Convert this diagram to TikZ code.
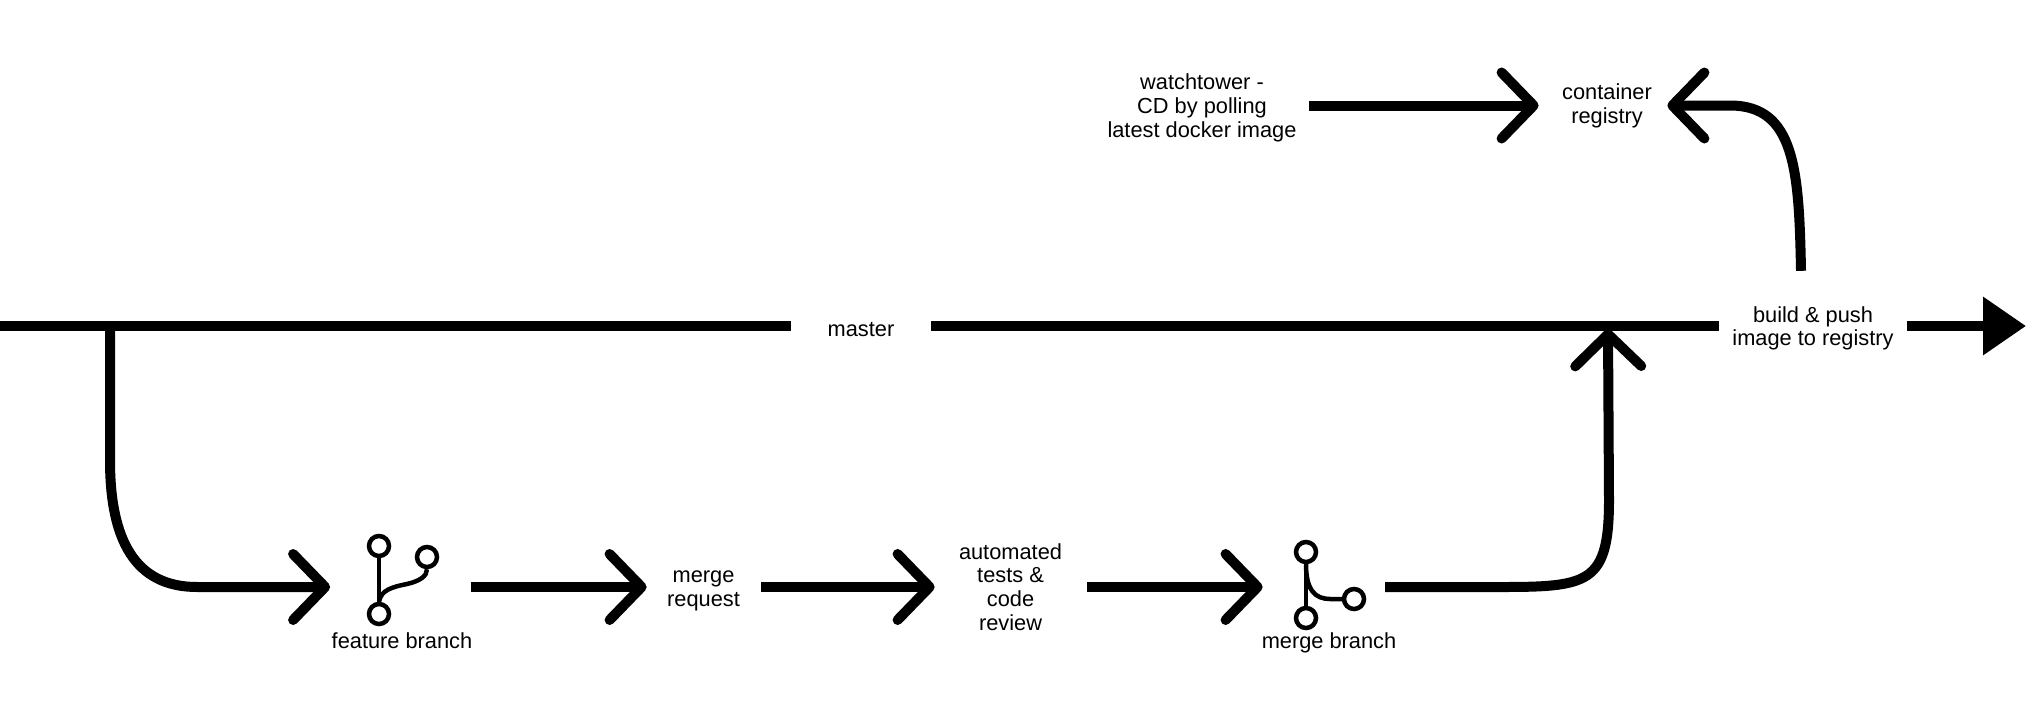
\documentclass[tikz,border=0pt]{standalone}
\usepackage{fontspec}
\setmainfont{Liberation Sans}
\usetikzlibrary{arrows.meta}

\tikzset{
    flow/.style={line width=10pt, shorten >=-0.8pt, -{Straight Barb[length=32pt,width=66pt,line cap=round,line join=round]}},
    plainflow/.style={line width=10pt},
    endflow/.style={line width=10pt, -{Triangle[length=43pt,width=56pt]}},
    step label/.style={align=center, inner sep=0pt, font=\fontsize{21.8}{23.7}\selectfont},
    commit/.style={circle, draw, fill=white, line width=4.5pt, minimum size=20pt, inner sep=0pt},
    icon/.style={line width=4.5pt},
}

\begin{document}
\begin{tikzpicture}[x=1pt,y=-1pt]

                \useasboundingbox (0,0) rectangle (2026,717);

                \coordinate (origin) at (0,326);
                \coordinate (forkPoint) at (110,326);
                \coordinate (exit) at (2026,326);
                \coordinate (joinPoint) at (1608,330);
                \coordinate (topRow) at (0,105.5);

                % top row
                \node[step label, minimum width=214pt] (watchtower) at (1202,108) {watchtower -\\CD by polling\\latest docker image};
                \node[step label, minimum width=138pt] (registry) at (1607,106) {container\\registry};

                % main line
                \node[step label, minimum width=140pt] (master) at (861,330) {master};
                \node[step label, minimum width=187pt, minimum height=115pt] (build) at (1813,328.5) {build \& push\\image to registry};

                % bottom row
                \node[minimum width=141pt, inner sep=0pt] (featureBranch) at (400,587) {};
                \node[step label, minimum width=115pt] (mergeRequest) at (703.5,591) {merge\\request};
                \node[step label, minimum width=153pt] (tests) at (1010.5,587) {automated\\tests \&\\code\\review};
                \node[minimum width=123pt, inner sep=0pt] (mergeBranch) at (1323.5,587) {};
                \node[step label] (featureLabel) at (402,641) {feature branch};
                \node[step label] (mergeLabel) at (1329,643) {merge branch};

                % branch icons
                \node[commit] (featureTop) at (379,546) {};
                \node[commit] (featureRight) at (427,557) {};
                \node[commit] (featureBottom) at (379,614) {};
                \node[commit] (mergeTop) at (1306,552) {};
                \node[commit] (mergeRight) at (1354,599) {};
                \node[commit] (mergeBottom) at (1306,618) {};

                \draw[icon] (featureTop) -- (featureBottom);
                \draw[icon] (featureBottom.north) .. controls (381,590) and (392,587) .. (407,584) .. controls (420,581) and (427,576) .. (featureRight.south);
                \draw[icon] (mergeTop) -- (mergeBottom);
                \draw[icon] (mergeTop.south) .. controls (1306,590) and (1315,599) .. (1330,599) -- (mergeRight.west);

                \draw[plainflow] (origin) -- (origin -| master.west);
                \draw[plainflow] (origin -| master.east) -- (origin -| build.west);
                \draw[endflow] (origin -| build.east) -- (exit);

                \draw[flow] (forkPoint) -- (110,460) .. controls (110,540) and (135,587) .. (197,587) -- (featureBranch.west);
                \draw[flow] (featureBranch.east) -- (featureBranch -| mergeRequest.west);
                \draw[flow] (featureBranch -| mergeRequest.east) -- (tests.west);
                \draw[flow] (tests.east) -- (mergeBranch.west);
                \draw[flow] (mergeBranch.east) -- (1480,587) .. controls (1585,587) and (1609,590) .. (1609,500) -- (joinPoint);

                \draw[flow] (topRow -| watchtower.east) -- (topRow -| registry.west);
                \draw[flow] ([xshift=-12pt]build.north) .. controls (1799,170) and (1795,105.5) .. (1730,105.5) -- ([xshift=-8pt]topRow -| registry.east);
\end{tikzpicture}
\end{document}
